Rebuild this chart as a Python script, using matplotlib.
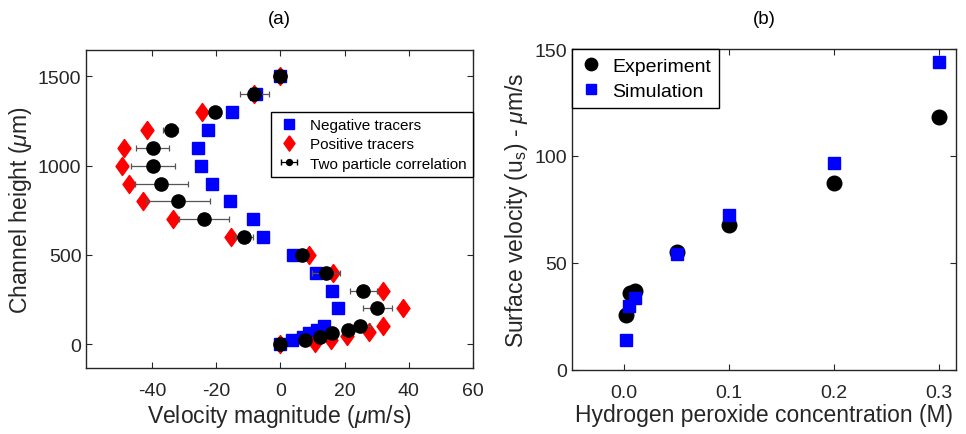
import matplotlib
matplotlib.use('Agg')
import matplotlib.pyplot as plt
import numpy as np

plt.rcParams['font.family'] = ['Liberation Sans', 'DejaVu Sans']
plt.rcParams['mathtext.fontset'] = 'custom'
plt.rcParams['mathtext.rm'] = 'Liberation Sans'
plt.rcParams['mathtext.it'] = 'Liberation Sans:italic'
plt.rcParams['axes.unicode_minus'] = False

# (a) velocity profiles across the channel
neg_h = [0, 20, 40, 60, 80, 100, 200, 300, 400, 500, 600, 700, 800, 900,
         1000, 1100, 1200, 1300, 1400, 1500]
neg_v = [0, 3.6, 7.1, 9.0, 11.3, 13.7, 17.8, 16.1, 11.1, 3.8, -5.3, -8.7,
         -15.7, -21.3, -24.8, -25.6, -22.6, -15.1, -7.7, 0]
pos_h = [0, 8, 25, 45, 70, 100, 200, 300, 400, 500, 600, 700, 800, 900,
         1000, 1100, 1200, 1300, 1400, 1500]
pos_v = [0, 10.9, 15.7, 20.7, 27.6, 32.0, 38.2, 32.0, 16.4, 9.0, -15.3, -33.5,
         -42.8, -47.2, -49.4, -48.7, -41.7, -24.3, -8.3, 0]
tpc_h = [0, 20, 40, 60, 80, 100, 200, 300, 400, 500, 600, 700, 800, 900,
         1000, 1100, 1200, 1300, 1400, 1500]
tpc_v = [0, 7.8, 12.4, 16.1, 21.1, 24.8, 30.2, 25.8, 14.2, 6.7, -11.3, -23.8,
         -32.0, -37.1, -39.7, -39.8, -34.2, -20.5, -8.1, 0]
tpc_err = [0.5, 0.5, 0.5, 0.8, 1.0, 3.0, 4.4, 4.2, 4.3, 1.0, 2.8, 7.7,
           10.0, 8.3, 6.8, 5.2, 2.4, 0.8, 4.5, 0.8]

# (b) surface velocity vs H2O2
exp_c = [0.002, 0.006, 0.01, 0.05, 0.1, 0.2, 0.3]
exp_u = [25.7, 35.7, 37.0, 55.2, 67.8, 87.2, 118.2]
sim_c = [0.002, 0.005, 0.01, 0.05, 0.1, 0.2, 0.3]
sim_u = [14.0, 29.9, 33.7, 54.1, 72.5, 96.7, 144.2]

dark = '#262626'
diamond = [(0, 1), (0.72, 0), (0, -1), (-0.72, 0), (0, 1)]

fig = plt.figure(figsize=(9.66, 4.35), dpi=100)
ax1 = fig.add_axes([0.0893, 0.151, 0.4004, 0.7324])
ax2 = fig.add_axes([0.5918, 0.1478, 0.3978, 0.737])

for ax in (ax1, ax2):
    ax.tick_params(direction='in', top=True, right=True, labelsize=14,
                   colors=dark, length=4, width=0.8)
    ax.tick_params(axis='x', pad=10)
    for s in ax.spines.values():
        s.set_color(dark)
        s.set_linewidth(1.0)

# left panel
sq, = ax1.plot(neg_v, neg_h, 's', color='#0000ff', ms=8, mec='#0000ff')
dm, = ax1.plot(pos_v, pos_h, marker=diamond, ls='none', color='#ff0000', ms=13)
ax1.errorbar(tpc_v, tpc_h, xerr=tpc_err, fmt='o', color='k', ms=9.5,
             ecolor='#555555', elinewidth=0.9, capsize=2.5, capthick=0.9)
proxy = ax1.errorbar([np.nan], [np.nan], xerr=[1], fmt='o', color='k', ms=5,
                     ecolor='k', elinewidth=0.9, capsize=2.5)
ax1.set_xlim(-60.5, 60)
ax1.set_ylim(-136, 1650)
ax1.set_xticks([-40, -20, 0, 20, 40, 60])
ax1.set_yticks([0, 500, 1000, 1500])
ax1.set_xlabel(r'Velocity magnitude ($\mu$m/s)', fontsize=16.5, color=dark, labelpad=2)
ax1.set_ylabel(r'Channel height ($\mu$m)', fontsize=16.5, color=dark, labelpad=3)
ax1.set_title('(a)', fontsize=13.5, pad=19)
leg1 = ax1.legend([sq, dm, proxy],
                  ['Negative tracers', 'Positive tracers', 'Two particle correlation'],
                  loc='upper right', bbox_to_anchor=(1.0, 0.805), borderaxespad=0,
                  fontsize=11, fancybox=False, edgecolor='k', framealpha=1,
                  handlelength=1.6, handletextpad=0.6, labelspacing=0.35,
                  borderpad=0.4, markerscale=0.85)
leg1.get_frame().set_linewidth(1.0)

# right panel
ex, = ax2.plot(exp_c, exp_u, 'o', color='k', ms=10.5)
sm, = ax2.plot(sim_c, sim_u, 's', color='#0000ff', ms=8)
ax2.set_xlim(-0.05, 0.316)
ax2.set_ylim(0, 150)
ax2.set_xticks([0, 0.1, 0.2, 0.3])
ax2.set_yticks([0, 50, 100, 150])
ax2.set_xlabel('Hydrogen peroxide concentration (M)', fontsize=16.5, color=dark, labelpad=2)
ax2.set_ylabel(r'Surface velocity (u$_{\rm s}$) - $\mu$m/s', fontsize=16.5,
               color=dark, labelpad=3)
ax2.set_title('(b)', fontsize=13.5, pad=19)
leg2 = ax2.legend([ex, sm], ['Experiment', 'Simulation'], loc='upper left',
                  bbox_to_anchor=(0, 1), borderaxespad=0, fontsize=14,
                  fancybox=False, edgecolor='k', framealpha=1,
                  handlelength=1.2, handletextpad=0.5, labelspacing=0.4,
                  borderpad=0.4, markerscale=0.85)
leg2.get_frame().set_linewidth(1.0)

fig.savefig('out.png', dpi=100)
